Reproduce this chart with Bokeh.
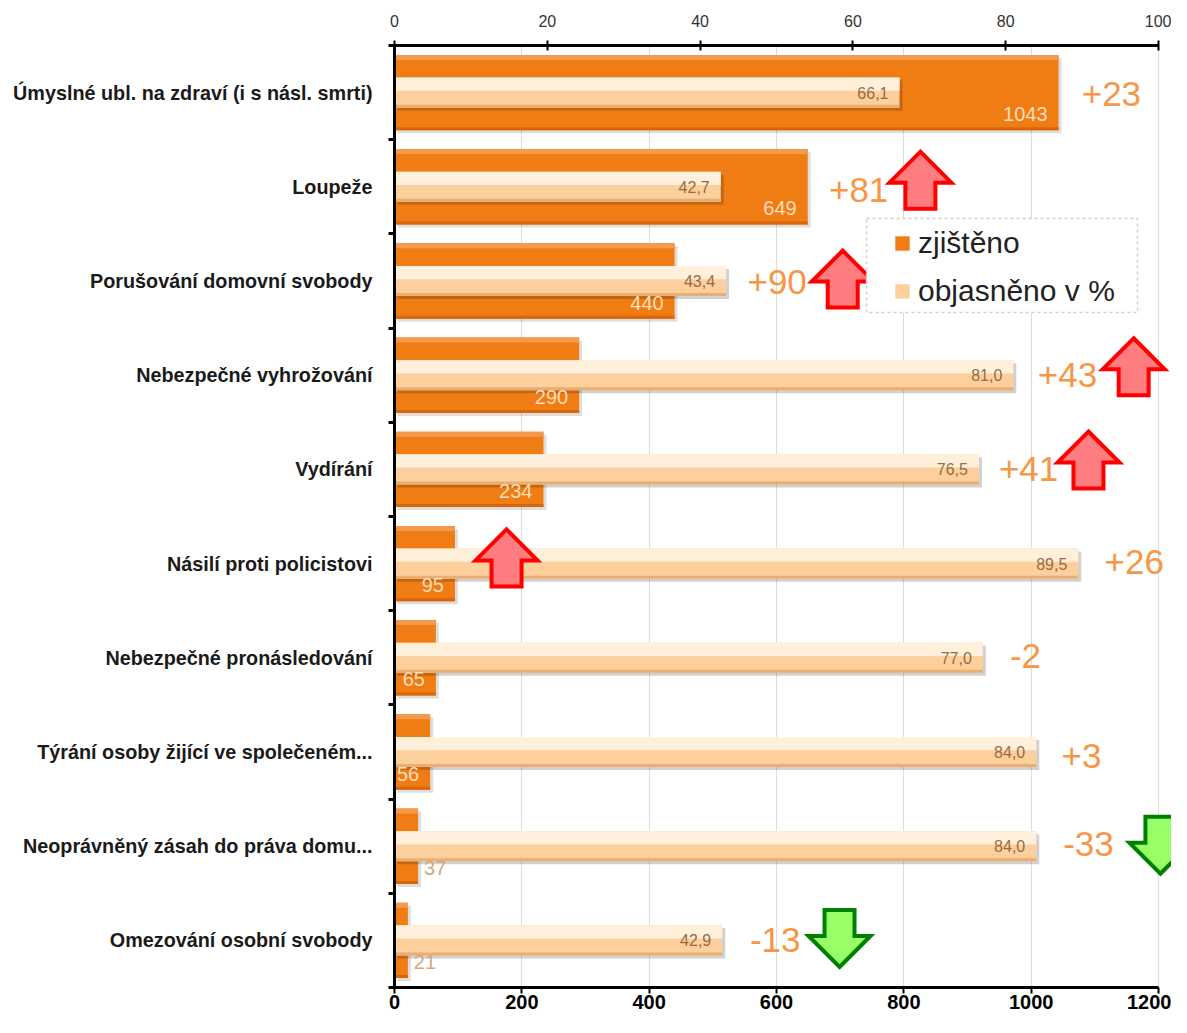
from bokeh.plotting import figure
from bokeh.models import (Range1d, LinearAxis, FixedTicker, ColumnDataSource,
                          Legend, LegendItem)
from bokeh.core.properties import value
from bokeh.embed import file_html
from bokeh.resources import INLINE

# ---------------- data ----------------
categories = [
    "Úmyslné ubl. na zdraví (i s násl. smrti)",
    "Loupeže",
    "Porušování domovní svobody",
    "Nebezpečné vyhrožování",
    "Vydírání",
    "Násilí proti policistovi",
    "Nebezpečné pronásledování",
    "Týrání osoby žijící ve společeném...",
    "Neoprávněný zásah do práva domu...",
    "Omezování osobní svobody",
]
zjisteno = [1043, 649, 440, 290, 234, 95, 65, 56, 37, 21]
objasneno = [66.1, 42.7, 43.4, 81.0, 76.5, 89.5, 77.0, 84.0, 84.0, 42.9]
zmena = ["+23", "+81", "+90", "+43", "+41", "+26", "-2", "+3", "-33", "-13"]
bottom_ticks = [0, 200, 400, 600, 800, 1000, 1200]
top_ticks = [0, 20, 40, 60, 80, 100]

# ------------- annotation placement (layout only) -------------
zmena_x = [1126, 729, 601, 1057, 996, 1162, 991, 1079, 1090, 598]
zmena_y = [0.52, 1.53, 2.51, 3.50, 4.50, 5.48, 6.48, 7.54, 8.48, 9.50]
arrow_x = [826, 704, 1161, 1090, 176, 1203, 699]
arrow_y = [1.43, 2.48, 3.41, 4.40, 5.44, 8.49, 9.48]
arrow_dir = ["up", "up", "up", "up", "up", "down", "down"]

# ------------- geometry -------------
FIG_W, FIG_H = 1171, 1017
BORDER_L, BORDER_T, BORDER_B = 394, 45, 30
FRAME_W = FIG_W - BORDER_L
FRAME_H = FIG_H - BORDER_T - BORDER_B
XMAX = 1200 * FRAME_W / 764.0
PMAX = XMAX / 12.0
PX_X = FRAME_W / XMAX
PX_Y = FRAME_H / 10.0
FRAME_BOTTOM = FIG_H - BORDER_B

ORANGE = "#F07C14"
LIGHT = "#FCCF9C"
FONT = "Liberation Sans"

p = figure(width=FIG_W, height=FIG_H, x_range=Range1d(0, XMAX), y_range=Range1d(10, 0),
           output_backend="svg", toolbar_location=None,
           min_border_left=BORDER_L, min_border_right=0,
           min_border_top=BORDER_T, min_border_bottom=BORDER_B)
p.extra_x_ranges = {"pct": Range1d(0, PMAX)}
p.outline_line_color = None
p.background_fill_color = "white"
p.border_fill_color = "white"

# grids
p.ygrid.visible = False
p.xgrid.ticker = FixedTicker(ticks=bottom_ticks)
p.xgrid.bounds = (0, 1200)
p.xgrid.grid_line_color = "#DCDCDC"
p.xgrid.grid_line_width = 1

# bottom axis
xa = p.xaxis[0]
xa.ticker = FixedTicker(ticks=bottom_ticks)
xa.bounds = (0, 1200)
xa.axis_line_width = 3
xa.axis_line_color = "black"
xa.major_tick_in = 0
xa.major_tick_out = 6
xa.major_tick_line_width = 2
xa.minor_tick_line_color = None
xa.major_label_standoff = 1
xa.major_label_text_font = FONT
xa.major_label_text_font_style = "bold"
xa.major_label_text_font_size = "20px"
xa.major_label_text_color = "black"

# left axis (categories)
ya = p.yaxis[0]
centers = [i + 0.5 for i in range(len(categories))]
ya.ticker = FixedTicker(ticks=centers, minor_ticks=list(range(len(categories) + 1)))
ya.major_label_overrides = {c: cat for c, cat in zip(centers, categories)}
ya.axis_line_width = 3
ya.axis_line_color = "black"
ya.major_tick_line_color = None
ya.major_tick_out = 6
ya.major_tick_in = 0
ya.minor_tick_line_color = "black"
ya.minor_tick_line_width = 3
ya.minor_tick_out = 6
ya.minor_tick_in = 0
ya.major_label_standoff = 16
ya.major_label_text_font = FONT
ya.major_label_text_font_style = "bold"
ya.major_label_text_font_size = "19.8px"
ya.major_label_text_color = "#1A1A1A"

# top axis (percent)
ta = LinearAxis(x_range_name="pct", ticker=FixedTicker(ticks=top_ticks), bounds=(0, 100))
ta.axis_line_width = 3
ta.axis_line_color = "black"
ta.major_tick_in = 5
ta.major_tick_out = 5
ta.major_tick_line_width = 2
ta.minor_tick_line_color = None
ta.major_label_standoff = 14
ta.major_label_text_font = FONT
ta.major_label_text_font_size = "16px"
ta.major_label_text_color = "#333333"
p.add_layout(ta, "above")

# ---------------- bars ----------------
OH, LH = 0.80, 0.32
sh_dx = 3 / PX_X
sh_dy = 3 / PX_Y
src = ColumnDataSource(dict(
    y=centers,
    zj=zjisteno,
    ob=objasneno,
    ob_t=[f"{v:.1f}".replace(".", ",") for v in objasneno],
    y_sh=[c + sh_dy for c in centers],
    zj_sh=[v + sh_dx for v in zjisteno],
    ob_sh=[v + sh_dx / 12.0 for v in objasneno],
    y_otop=[c - OH / 2 + 2.5 / PX_Y for c in centers],
    y_obot=[c + OH / 2 - 1.5 / PX_Y for c in centers],
    y_ltop=[c - LH / 2 + LH * 0.22 for c in centers],
    y_lbot=[c + LH / 2 - 1.5 / PX_Y for c in centers],
))

# orange bars (zjištěno)
p.hbar(y="y_sh", left=sh_dx, right="zj_sh", height=OH, source=src,
       fill_color="black", fill_alpha=0.13, line_color=None)
r_zj = p.hbar(y="y", left=0, right="zj", height=OH, source=src,
              fill_color=ORANGE, line_color=None)
p.hbar(y="y_otop", left=0, right="zj", height=5 / PX_Y, source=src,
       fill_color="#F59A4C", line_color=None)
p.hbar(y="y_obot", left=0, right="zj", height=3 / PX_Y, source=src,
       fill_color="#D9660A", line_color=None)

# light bars (objasněno v %)
p.hbar(y="y_sh", left=sh_dx / 12.0, right="ob_sh", height=LH, source=src,
       fill_color="black", fill_alpha=0.18, line_color=None, x_range_name="pct")
r_ob = p.hbar(y="y", left=0, right="ob", height=LH, source=src,
              fill_color=LIGHT, line_color=None, x_range_name="pct")
p.hbar(y="y_ltop", left=0, right="ob", height=LH * 0.44, source=src,
       fill_color="#FFF0DC", line_color=None, x_range_name="pct")
p.hbar(y="y_lbot", left=0, right="ob", height=3 / PX_Y, source=src,
       fill_color="#E9AE72", line_color=None, x_range_name="pct")

# value labels of light bars
p.text(x="ob", y="y", text="ob_t", source=src, x_range_name="pct",
       x_offset=-11, text_align="right", text_baseline="middle",
       text_font=value(FONT), text_font_size="16px", text_color="#9A6A42")

# value labels of orange bars
inside = [v >= 50 for v in zjisteno]
lab_src = ColumnDataSource(dict(
    x=zjisteno,
    y=[c + 0.23 for c in centers],
    t=[str(v) for v in zjisteno],
    off=[-11 if ins else 6 for ins in inside],
    al=["right" if ins else "left" for ins in inside],
    col=["#FFDDBB" if ins else "#D6A77C" for ins in inside],
))
p.text(x="x", y="y", text="t", source=lab_src, x_offset="off", text_align="al",
       text_color="col", text_baseline="middle",
       text_font=value(FONT), text_font_size="20px")

# change annotations
p.text(x=zmena_x, y=zmena_y, text=zmena, text_align="center", text_baseline="middle",
       text_font=value(FONT), text_font_size="35px", text_color="#F79646")

# arrows
shape = [(0, 28.5), (31, -2.5), (15, -2.5), (15, -28.5), (-15, -28.5), (-15, -2.5), (-31, -2.5)]
up_xs, up_ys, dn_xs, dn_ys = [], [], [], []
for ax, ay, d in zip(arrow_x, arrow_y, arrow_dir):
    s = 1 if d == "up" else -1
    xs = [ax + px / PX_X for px, py in shape]
    ys = [ay - s * py / PX_Y for px, py in shape]
    if d == "up":
        up_xs.append(xs); up_ys.append(ys)
    else:
        dn_xs.append(xs); dn_ys.append(ys)
p.patches(up_xs, up_ys, fill_color="#FF7C80", line_color="#FF0000", line_width=4,
          line_join="miter")
p.patches(dn_xs, dn_ys, fill_color="#99FF66", line_color="#008000", line_width=4,
          line_join="miter")

# legend box (dashed frame)
box_l, box_r = (866 - BORDER_L) / PX_X, (1137 - BORDER_L) / PX_X
box_t, box_b = (218 - BORDER_T) / PX_Y, (312 - BORDER_T) / PX_Y
p.quad(left=[box_l], right=[box_r], top=[box_t], bottom=[box_b],
       fill_color="white", line_color="#CFCFCF", line_dash="3 3", line_width=1.5)

legend = Legend(items=[LegendItem(label="zjištěno", renderers=[r_zj]),
                       LegendItem(label="objasněno v %", renderers=[r_ob])],
                location=(893 - BORDER_L, FRAME_BOTTOM - 308), orientation="vertical",
                padding=0, margin=0, spacing=13, glyph_width=18, glyph_height=18,
                label_standoff=7, label_height=35,
                label_text_font=FONT, label_text_font_size="30px",
                label_text_color="#222222",
                border_line_color=None, background_fill_alpha=0.0)
p.add_layout(legend, "center")

open("out.html", "w").write(file_html(p, INLINE))
